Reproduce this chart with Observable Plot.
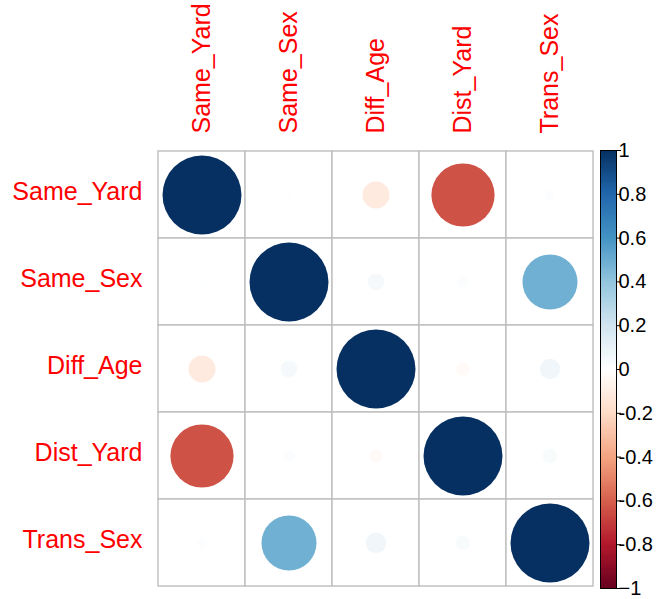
<!DOCTYPE html>
<html>
<head>
<meta charset="utf-8">
<script src="https://cdn.jsdelivr.net/npm/d3@7"></script>
<script src="https://cdn.jsdelivr.net/npm/@observablehq/plot@0.6"></script>
<style>
  html, body { margin: 0; padding: 0; background: white; }
  #wrap { position: relative; width: 658px; height: 599px; }
  #wrap svg { position: absolute; left: 0; top: 0; }
</style>
</head>
<body>
<div id="wrap"></div>
<script>
const vars = ["Same_Yard", "Same_Sex", "Diff_Age", "Dist_Yard", "Trans_Sex"];
const rowSame_Yard = [1, 0.008, -0.117, -0.64, 0.016];
const rowSame_Sex  = [0.008, 1, 0.045, 0.021, 0.485];
const rowDiff_Age  = [-0.117, 0.045, 1, -0.03, 0.067];
const rowDist_Yard = [-0.64, 0.021, -0.03, 1, 0.034];
const rowTrans_Sex = [0.016, 0.485, 0.067, 0.034, 1];
const corr = [rowSame_Yard, rowSame_Sex, rowDiff_Age, rowDist_Yard, rowTrans_Sex];

const colorStops = [-1, -0.8, -0.6, -0.4, -0.2, 0, 0.2, 0.4, 0.6, 0.8, 1];
const colorRange = ["#67001F", "#B2182B", "#D6604D", "#F4A582", "#FDDBC7", "#FFFFFF",
                    "#D1E5F0", "#92C5DE", "#4393C3", "#2166AC", "#053061"];
const tickVals = [-1, -0.8, -0.6, -0.4, -0.2, 0, 0.2, 0.4, 0.6, 0.8, 1];
const tickLabels = ["\u22121", "-0.8", "-0.6", "-0.4", "-0.2", "0", "0.2", "0.4", "0.6", "0.8", "1"];

const font = "'Liberation Sans', Arial, Helvetica, sans-serif";
const colorScale = { type: "linear", domain: colorStops, range: colorRange, interpolate: "rgb" };

const cells = vars.flatMap((r, i) => vars.map((c, j) => ({ row: r, col: c, value: corr[i][j] })));

const main = Plot.plot({
  width: 658, height: 599,
  marginLeft: 157, marginRight: 64, marginTop: 150, marginBottom: 12,
  style: { fontFamily: font, background: "white" },
  x: { domain: vars, padding: 0, axis: null },
  y: { domain: vars, padding: 0, axis: null },
  color: colorScale,
  r: { type: "sqrt", domain: [0, 1], range: [0, 39.5] },
  marks: [
    Plot.cell(cells, { x: "col", y: "row", fill: "white", stroke: "#bebebe", strokeWidth: 1.4 }),
    Plot.dot(cells, { x: "col", y: "row", r: d => Math.abs(d.value), fill: "value" }),
    Plot.axisX({ anchor: "top", tickRotate: -90, tickSize: 0, tickPadding: 17, fontSize: 25, color: "red", label: null }),
    Plot.axisY({ anchor: "left", tickSize: 0, tickPadding: 15, fontSize: 25, dy: -3, color: "red", label: null })
  ]
});

const stops = d3.range(200).map(i => -1 + i * 0.01);
const legendLabels = tickVals.map((v, i) => ({ value: v, label: tickLabels[i] }));
const legend = Plot.plot({
  width: 658, height: 599,
  marginLeft: 600, marginRight: 42, marginTop: 150, marginBottom: 11,
  style: { fontFamily: font, background: "transparent", color: "black" },
  y: { domain: [-1, 1], axis: null },
  color: colorScale,
  marks: [
    Plot.rect(stops, { y1: d => d, y2: d => d + 0.0101, fill: d => d + 0.005, shapeRendering: "crispEdges" }),
    Plot.frame({ stroke: "black", strokeWidth: 1 }),
    Plot.axisY({ anchor: "right", ticks: tickVals, tickFormat: () => "", tickSize: 4, label: null }),
    Plot.text(legendLabels, { y: "value", text: "label", frameAnchor: "right", dx: 2, textAnchor: "start", fontSize: 20, fill: "black" })
  ]
});

const wrap = document.getElementById("wrap");
wrap.appendChild(main);
wrap.appendChild(legend);
</script>
</body>
</html>
